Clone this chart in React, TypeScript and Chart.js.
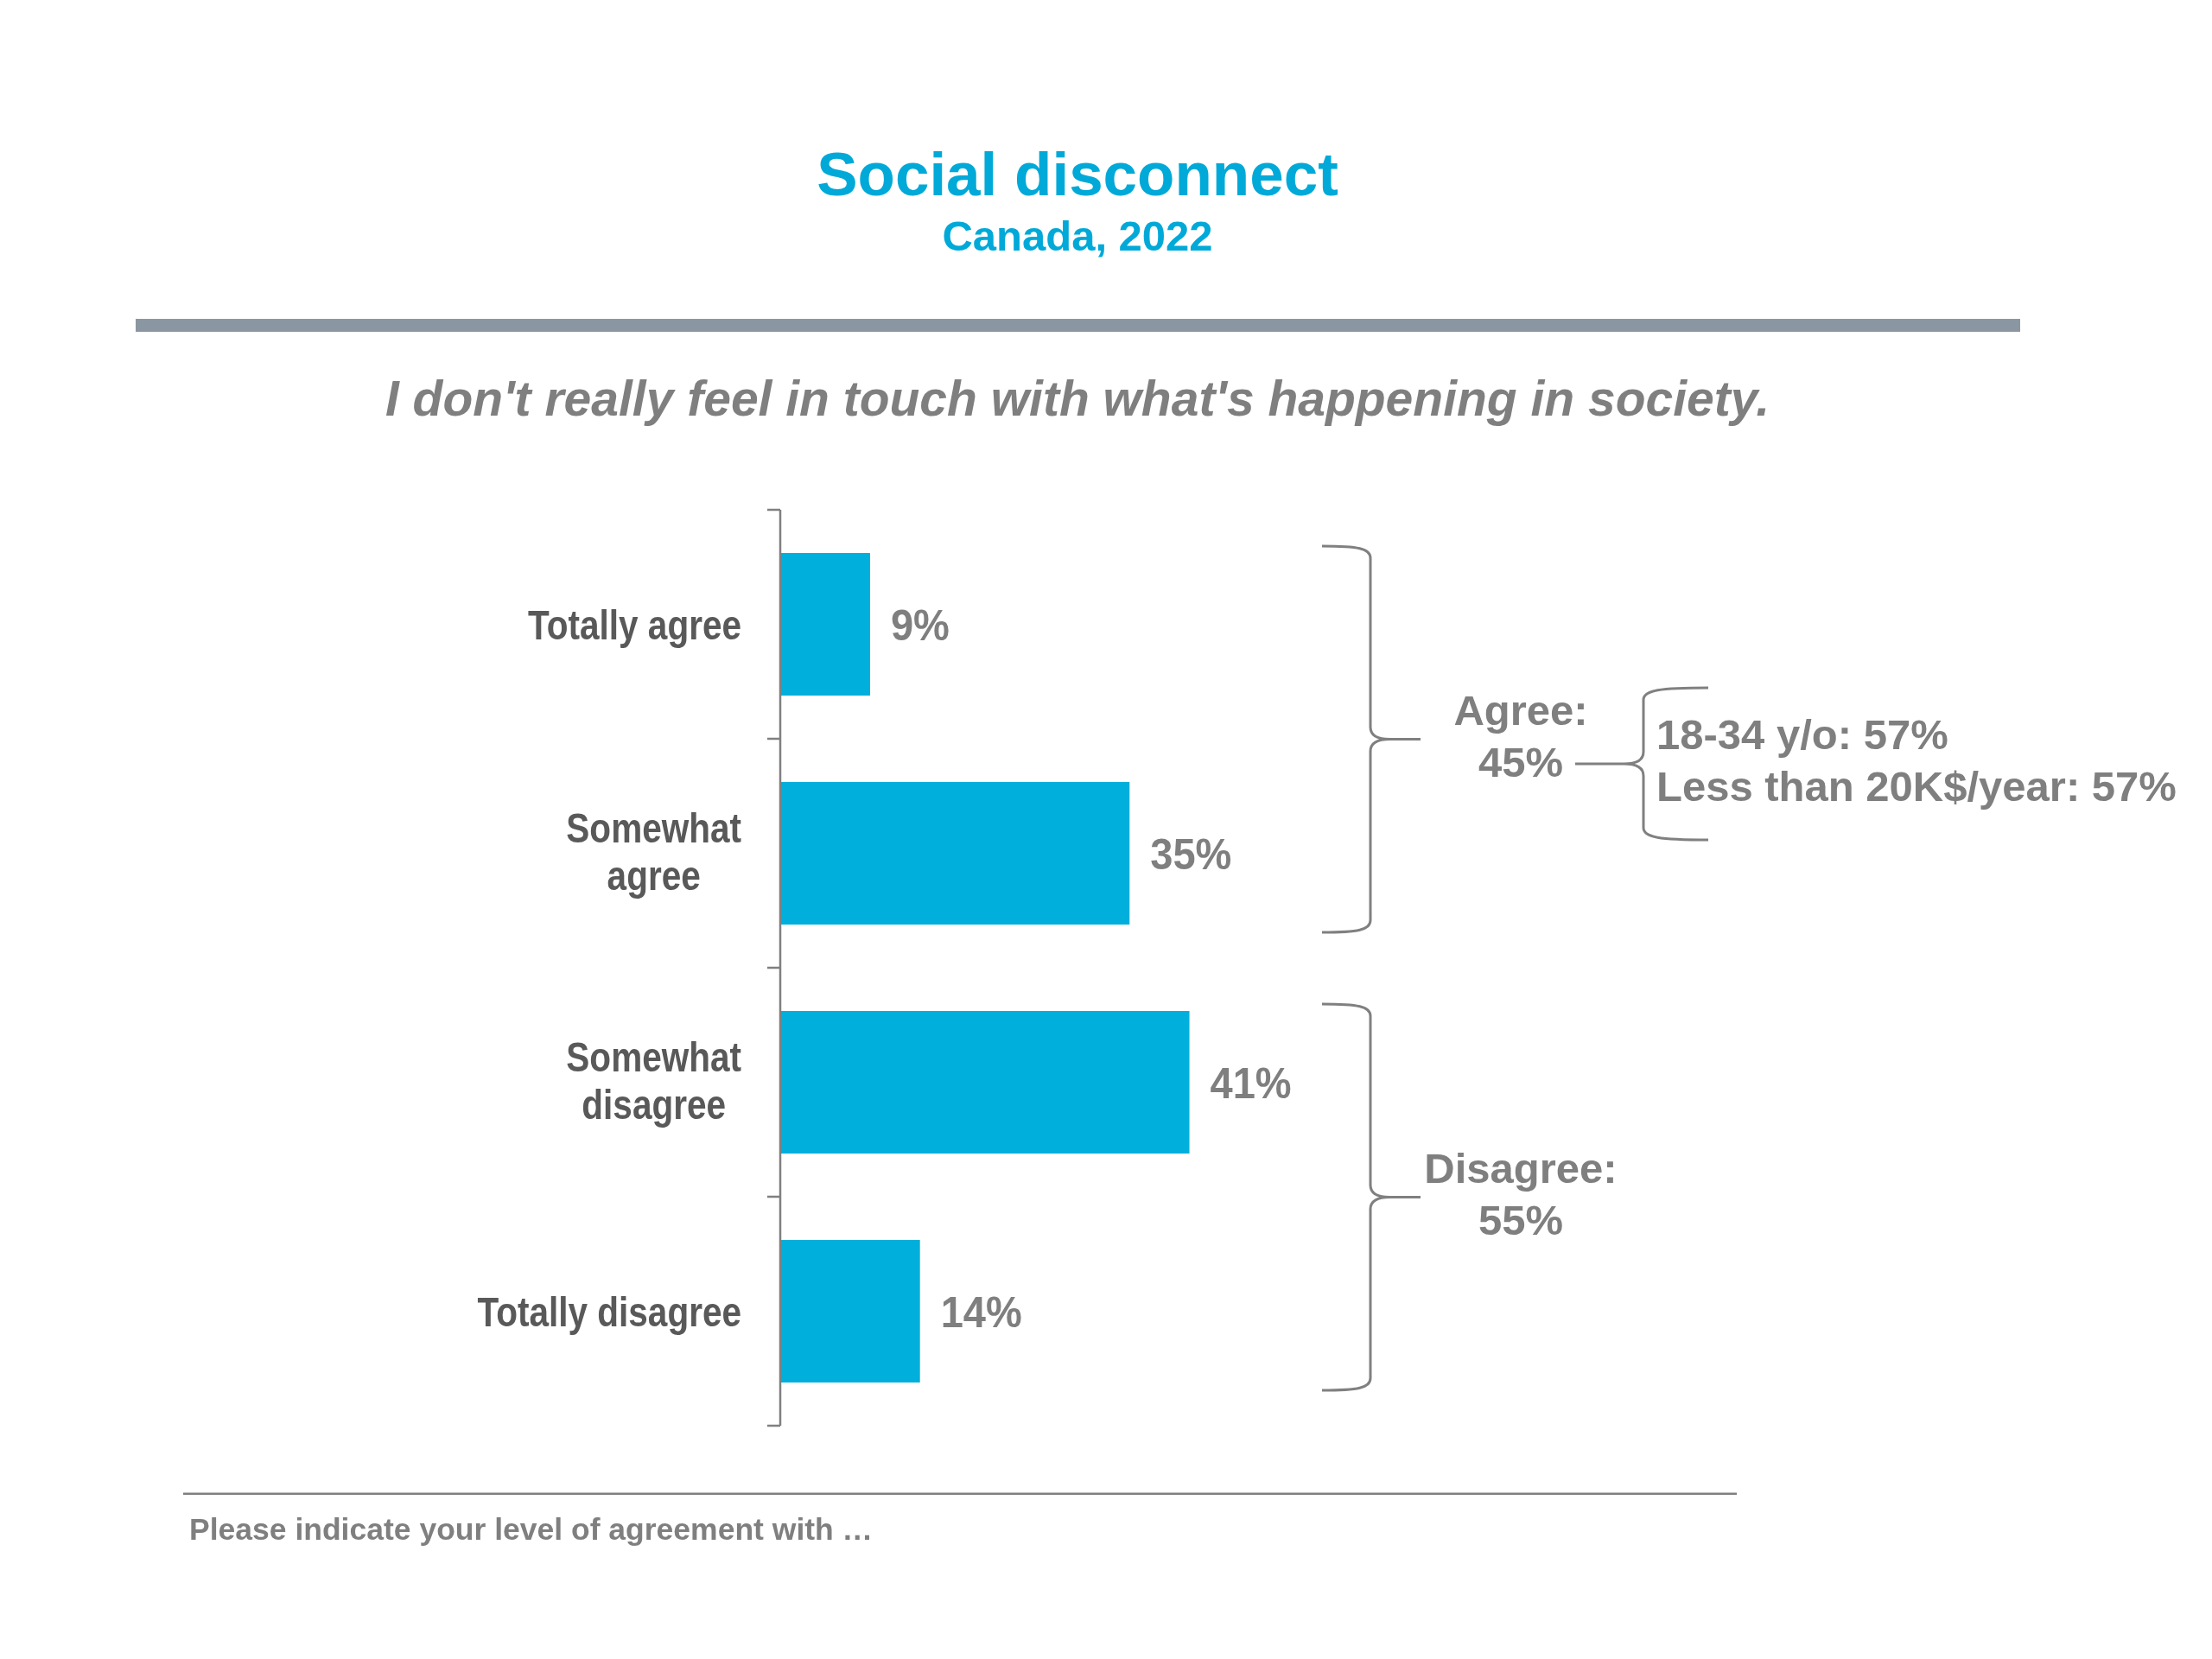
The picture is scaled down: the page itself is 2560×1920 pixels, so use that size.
import React, { useEffect, useRef } from "react";
import { Chart, registerables } from "chart.js";

Chart.register(...registerables);

// ---------- data ----------
const TITLE = "Social disconnect";
const SUBTITLE = "Canada, 2022";
const QUESTION = "I don't really feel in touch with what's happening in society.";
const FOOTNOTE = "Please indicate your level of agreement with \u2026";

const categories: string[][] = [
  ["Totally agree"],
  ["Somewhat", "agree"],
  ["Somewhat", "disagree"],
  ["Totally disagree"],
];
const values: number[] = [9, 35, 41, 14];
const groupLabels: string[][] = [
  ["Agree:", "45%"],
  ["Disagree:", "55%"],
];
const groupRanges: number[][] = [
  [0, 1],
  [2, 3],
];
const agreeBreakdown: string[] = ["18-34 y/o: 57%", "Less than 20K$/year: 57%"];
const X_MAX = 100;

// ---------- styles ----------
const FONT = '"Liberation Sans", Arial, Helvetica, sans-serif';
const CYAN = "#00A9D8";
const BAR = "#00AFDB";
const GREY = "#7F7F7F";
const DARK = "#595959";

function txt(
  ctx: CanvasRenderingContext2D,
  s: string,
  x: number,
  y: number,
  size: number,
  color: string,
  align: CanvasTextAlign,
  sx = 1,
  style = "bold"
) {
  ctx.save();
  ctx.font = `${style} ${size}px ${FONT}`;
  ctx.fillStyle = color;
  ctx.textAlign = align;
  ctx.textBaseline = "alphabetic";
  ctx.translate(x, y);
  ctx.scale(sx, 1);
  ctx.fillText(s, 0, 0);
  ctx.restore();
}

function brace(
  ctx: CanvasRenderingContext2D,
  armX: number,
  spineX: number,
  tipX: number,
  top: number,
  mid: number,
  bottom: number,
  r: number
) {
  const dir = Math.sign(spineX - armX);
  const span = Math.abs(spineX - armX);
  ctx.save();
  ctx.strokeStyle = "#808080";
  ctx.lineWidth = 3;
  ctx.lineJoin = "round";
  ctx.beginPath();
  ctx.moveTo(armX, top);
  ctx.bezierCurveTo(armX + dir * span * 0.75, top, spineX, top + r * 0.2, spineX, top + r);
  ctx.lineTo(spineX, mid - r);
  ctx.bezierCurveTo(spineX, mid - r * 0.3, spineX + dir * r * 0.6, mid, spineX + dir * r * 1.6, mid);
  ctx.lineTo(tipX, mid);
  ctx.moveTo(spineX + dir * r * 1.6, mid);
  ctx.bezierCurveTo(spineX + dir * r * 0.6, mid, spineX, mid + r * 0.3, spineX, mid + r);
  ctx.lineTo(spineX, bottom - r);
  ctx.bezierCurveTo(spineX, bottom - r * 0.2, armX + dir * span * 0.75, bottom, armX, bottom);
  ctx.stroke();
  ctx.restore();
}

const decorPlugin = {
  id: "decor",
  afterDraw(chart: any) {
    const ctx: CanvasRenderingContext2D = chart.ctx;
    const xs = chart.scales.x;
    const ys = chart.scales.y;
    const meta = chart.getDatasetMeta(0);

    // header
    txt(ctx, TITLE, 1247, 226, 71, CYAN, "center");
    txt(ctx, SUBTITLE, 1247, 290, 49, CYAN, "center");
    ctx.fillStyle = "#8A97A2";
    ctx.fillRect(157, 369, 2181, 15);
    txt(ctx, QUESTION, 1247, 481, 57, GREY, "center", 1, "italic bold");

    // axis line + ticks
    const x0 = xs.getPixelForValue(0);
    const n = categories.length;
    const band = (ys.bottom - ys.top) / n;
    ctx.save();
    ctx.strokeStyle = "#808080";
    ctx.lineWidth = 2.5;
    ctx.beginPath();
    ctx.moveTo(x0, ys.top);
    ctx.lineTo(x0, ys.bottom);
    for (let k = 0; k <= n; k++) {
      const y = ys.top + k * band;
      ctx.moveTo(x0 - 15, y);
      ctx.lineTo(x0, y);
    }
    ctx.stroke();
    ctx.restore();

    // category labels
    const labSize = 49;
    const labSx = 0.827;
    const labRight = x0 - 45;
    ctx.save();
    ctx.font = `bold ${labSize}px ${FONT}`;
    categories.forEach((lines, i) => {
      const cy = ys.getPixelForValue(i);
      if (lines.length === 1) {
        txt(ctx, lines[0], labRight, cy + 17, labSize, DARK, "right", labSx);
      } else {
        const widths = lines.map((l) => ctx.measureText(l).width * labSx);
        const maxW = Math.max(...widths);
        const cx = labRight - maxW / 2;
        const lh = 55;
        const first = cy - 12.5;
        lines.forEach((l, j) => txt(ctx, l, cx, first + j * lh, labSize, DARK, "center", labSx));
      }
    });
    ctx.restore();

    // value labels
    meta.data.forEach((el: any, i: number) => {
      txt(ctx, `${values[i]}%`, el.x + 24, el.y + 18, 50, GREY, "left", 0.94);
    });

    // group braces
    const mids: number[] = [];
    groupRanges.forEach(([a, b], g) => {
      const ea = meta.data[a];
      const eb = meta.data[b];
      const top = ea.y - ea.height / 2 - 8;
      const bottom = eb.y + eb.height / 2 + 9;
      const mid = (top + bottom) / 2;
      mids.push(mid);
      brace(ctx, 1530, 1586, 1644, top, mid, bottom, 14);
      const gl = groupLabels[g];
      txt(ctx, gl[0], 1760, mid - 16.5, 49, GREY, "center");
      txt(ctx, gl[1], 1760, mid + 43.5, 49, GREY, "center");
    });

    // sub breakdown of Agree
    const smid = mids[0] + 28.5;
    brace(ctx, 1977, 1902, 1823, smid - 88, smid, smid + 88, 14);
    txt(ctx, agreeBreakdown[0], 1917, smid - 17, 49, GREY, "left");
    txt(ctx, agreeBreakdown[1], 1917, smid + 43, 49, GREY, "left");

    // footer
    ctx.fillStyle = "#808080";
    ctx.fillRect(212, 1727.5, 1798, 2.5);
    txt(ctx, FOOTNOTE, 219, 1782, 35.5, GREY, "left");
  },
};

export default function App() {
  const ref = useRef<HTMLCanvasElement | null>(null);
  useEffect(() => {
    if (!ref.current) return;
    const chart = new Chart(ref.current, {
      type: "bar",
      data: {
        labels: categories.map((c) => c.join(" ")),
        datasets: [
          {
            data: values,
            backgroundColor: BAR,
            borderWidth: 0,
            barPercentage: 0.623,
            categoryPercentage: 1,
          },
        ],
      },
      options: {
        indexAxis: "y",
        animation: false,
        responsive: false,
        devicePixelRatio: 1,
        layout: { padding: { left: 903, right: 502, top: 590, bottom: 270 } },
        scales: {
          x: { display: false, min: 0, max: X_MAX },
          y: { display: false },
        },
        plugins: {
          legend: { display: false },
          tooltip: { enabled: false },
          title: { display: false },
        },
      },
      plugins: [decorPlugin],
    } as any);
    return () => chart.destroy();
  }, []);
  return (
    <div style={{ position: "fixed", left: 0, top: 0, width: 2560, height: 1920, background: "#fff" }}>
      <canvas ref={ref} width={2560} height={1920} style={{ display: "block" }} />
    </div>
  );
}
